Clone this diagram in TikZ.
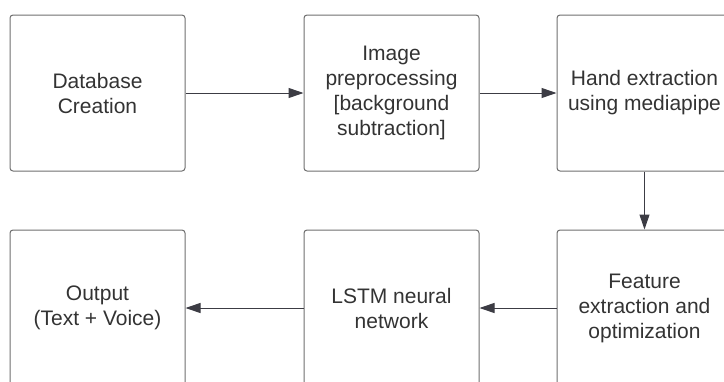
\documentclass[tikz,border=0pt]{standalone}
\usepackage{fontspec}
\setmainfont{Liberation Sans}
\usetikzlibrary{arrows.meta}
\usetikzlibrary{positioning}
\definecolor{boxline}{HTML}{6E6E6E}
\definecolor{arrowgray}{HTML}{3C3C44}
\definecolor{txtgray}{HTML}{333333}
\tikzset{
  stage/.style={
    draw=boxline, line width=1pt, rounded corners=3pt,
    minimum width=175pt, minimum height=156pt, inner sep=0,
    align=center, text=txtgray, font=\fontsize{21}{25}\selectfont
  },
  arrow/.style={-{Triangle[length=15pt,width=10pt]}, line width=1pt, draw=arrowgray}
}
\begin{document}
\begin{tikzpicture}
  \useasboundingbox (0,0) rectangle (724pt,-381pt);
  \clip (0,0) rectangle (724pt,-381pt);
  % top row
  \node[stage] (db) at (97.5pt,-93pt) {Database\\Creation};
  \node[stage, right=118pt of db] (prep) {Image\\preprocessing\\{[}background\\subtraction{]}};
  \node[stage, right=77pt of prep] (hand) {Hand extraction\\using mediapipe};
  % bottom row
  \node[stage, below=58pt of hand] (feat) {Feature\\extraction and\\optimization};
  \node[stage, below=58pt of prep] (lstm) {LSTM neural\\network};
  \node[stage, below=58pt of db] (out) {Output\\(Text + Voice)};
  % flow
  \draw[arrow] (db) -- (prep);
  \draw[arrow] (prep) -- (hand);
  \draw[arrow] (hand) -- (feat);
  \draw[arrow] (feat) -- (lstm);
  \draw[arrow] (lstm) -- (out);
\end{tikzpicture}
\end{document}
